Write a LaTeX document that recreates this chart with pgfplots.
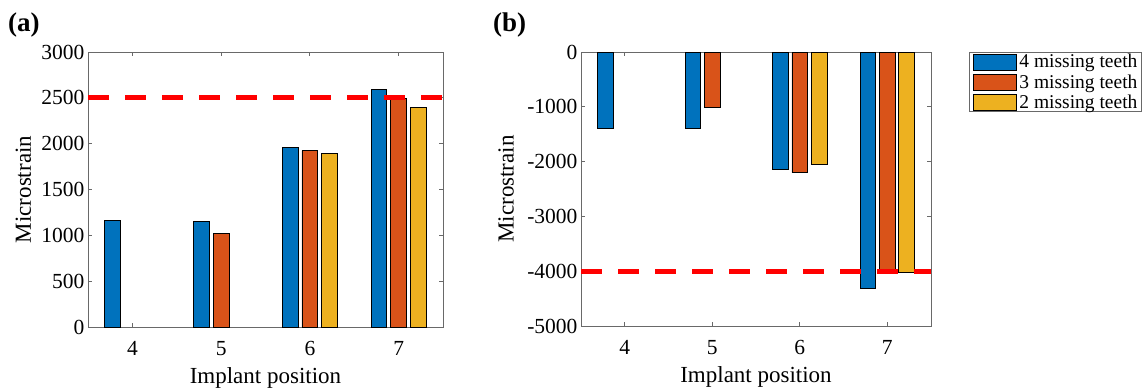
\documentclass[border=0pt]{standalone}
\usepackage{fontspec}
\setmainfont{Liberation Serif}
\usepackage{pgfplots}
\pgfplotsset{compat=1.18}

\definecolor{mblue}{rgb}{0,0.447,0.741}
\definecolor{morange}{rgb}{0.850,0.325,0.098}
\definecolor{myellow}{rgb}{0.929,0.694,0.125}
\definecolor{axgray}{RGB}{105,105,105}

\pgfplotsset{
  strainaxis/.style={
    scale only axis,
    xmin=3.5, xmax=7.5,
    xtick={4,5,6,7},
    tick align=inside,
    tick pos=both,
    major tick length=4bp,
    axis line style={axgray, line width=0.9bp},
    every tick/.style={axgray, line width=0.9bp},
    scaled y ticks=false,
    /pgf/number format/assume math mode=true,
    /pgf/number format/1000 sep={},
    ticklabel style={font=\fontsize{21.5bp}{24bp}\selectfont},
    xticklabel style={anchor=base, yshift=-28bp},
    label style={font=\fontsize{23bp}{26bp}\selectfont},
    xlabel={Implant position},
    ylabel={Microstrain},
  },
  mbar/.style={ybar, bar width=0.178, draw=black, line width=0.8bp,
    legend image code/.code={\draw[##1] (0bp,-8bp) rectangle (43bp,8bp);}},
  limitline/.style={red, line width=4.7bp, dash pattern=on 21bp off 16bp},
}

\begin{document}
\begin{tikzpicture}
\path[use as bounding box] (0,0) rectangle (1142bp,-388bp);

% panel tags
\node[anchor=base west, inner sep=0pt, font=\fontsize{27bp}{30bp}\selectfont\bfseries] at (8bp,-31.5bp) {(a)};
\node[anchor=base west, inner sep=0pt, font=\fontsize{27bp}{30bp}\selectfont\bfseries] at (493bp,-31.5bp) {(b)};

% (a) tensile strain
\begin{axis}[strainaxis,
  at={(88bp,-327bp)}, anchor=south west,
  width=355bp, height=275bp,
  ymin=0, ymax=3000, ytick={0,500,...,3000},
  xlabel style={at={(axis description cs:0.5,-0.204)}, anchor=base},
  ylabel style={at={(axis description cs:-0.182,0.5)}, anchor=center},
]
\addplot[mbar, fill=mblue, bar shift=-0.222] coordinates {(4,1165) (5,1155) (6,1962) (7,2593)};
\addplot[mbar, fill=morange, bar shift=0] coordinates {(5,1025) (6,1925) (7,2498)};
\addplot[mbar, fill=myellow, bar shift=0.222] coordinates {(6,1892) (7,2396)};
\addplot[limitline, forget plot] coordinates {(3.5,2500) (7.5,2500)};
\end{axis}

% (b) compressive strain
\begin{axis}[strainaxis,
  at={(581bp,-326bp)}, anchor=south west,
  width=350bp, height=274bp,
  ymin=-5000, ymax=0, ytick={-5000,-4000,...,0},
  xlabel style={at={(axis description cs:0.5,-0.208)}, anchor=base},
  ylabel style={at={(axis description cs:-0.214,0.5)}, anchor=center},
  legend style={at={(1.109,1)}, anchor=north west,
    draw=axgray, line width=0.9bp,
    font=\fontsize{19.5bp}{22bp}\selectfont,
    inner xsep=3bp, inner ysep=1bp, row sep=3bp,
    nodes={inner sep=1bp},
    /tikz/every odd column/.append style={column sep=2bp}},
  legend cell align=left,
]
\addplot[mbar, fill=mblue, bar shift=-0.222] coordinates {(4,-1385) (5,-1385) (6,-2140) (7,-4310)};
\addplot[mbar, fill=morange, bar shift=0] coordinates {(5,-1005) (6,-2200) (7,-3980)};
\addplot[mbar, fill=myellow, bar shift=0.222] coordinates {(6,-2042) (7,-4022)};
\addplot[limitline, forget plot] coordinates {(3.5,-4000) (7.5,-4000)};
\legend{4 missing teeth, 3 missing teeth, 2 missing teeth}
\end{axis}
\end{tikzpicture}
\end{document}
